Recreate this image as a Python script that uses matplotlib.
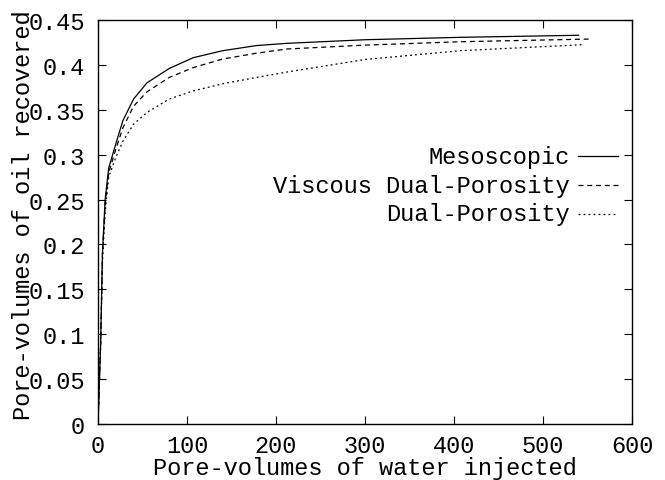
import numpy as np
import matplotlib
matplotlib.use("Agg")
import matplotlib.pyplot as plt

plt.rcParams['font.family'] = ['Liberation Mono', 'DejaVu Sans Mono']

# pore-volumes of water injected
x_meso = [0, 3, 5, 8, 12, 20, 28, 40, 55, 80, 107, 140, 178, 212, 300, 407, 540]
x_vdp = [0, 3, 5, 8, 12, 20, 28, 40, 55, 80, 107, 140, 178, 212, 300, 407, 554]
x_dp = [0, 3, 5, 8, 12, 20, 28, 40, 55, 80, 107, 140, 178, 212, 300, 407, 545]

# pore-volumes of oil recovered
y_meso = [0, 0.09, 0.19, 0.25, 0.285, 0.312, 0.338, 0.362, 0.38, 0.396, 0.408,
          0.4158, 0.4215, 0.424, 0.428, 0.4307, 0.433]
y_vdp = [0, 0.09, 0.19, 0.245, 0.28, 0.306, 0.33, 0.354, 0.37, 0.386, 0.397,
         0.4065, 0.413, 0.4177, 0.422, 0.4258, 0.4288]
y_dp = [0, 0.09, 0.18, 0.235, 0.275, 0.297, 0.315, 0.334, 0.347, 0.362, 0.371,
        0.379, 0.386, 0.392, 0.406, 0.4158, 0.4225]

labels = ['Mesoscopic', 'Viscous Dual-Porosity', 'Dual-Porosity']
xticks = [0, 100, 200, 300, 400, 500, 600]
yticks = [0, 0.05, 0.1, 0.15, 0.2, 0.25, 0.3, 0.35, 0.4, 0.45]

fs = 17
fig = plt.figure(figsize=(6.65, 4.81), dpi=100)
ax = fig.add_axes([98 / 665, 56 / 481, 534 / 665, 404 / 481])

styles = [dict(ls='-'), dict(ls=(0, (4, 3))), dict(ls=(0, (1.5, 2.5)))]
series = [(x_meso, y_meso), (x_vdp, y_vdp), (x_dp, y_dp)]
for (xs, ys), st in zip(series, styles):
    ax.plot(xs, ys, color='black', lw=0.9, **st)

ax.set_xlim(0, 600)
ax.set_ylim(0, 0.45)
ax.set_xticks(xticks)
ax.set_xticklabels([str(t) for t in xticks])
ax.set_yticks(yticks)
ax.set_yticklabels(['0', '0.05', '0.1', '0.15', '0.2', '0.25', '0.3', '0.35', '0.4', '0.45'])
ax.tick_params(direction='in', length=6, width=0.8, top=True, right=True,
               labelsize=fs, colors='black')
ax.tick_params(axis='y', pad=9.5)
ax.tick_params(axis='x', pad=7)
for s in ax.spines.values():
    s.set_linewidth(1.0)

ax.set_xlabel('Pore-volumes of water injected', fontsize=fs)
ax.set_ylabel('Pore-volumes of oil recovered', fontsize=fs)
ax.xaxis.set_label_coords(0.5, -0.078)
ax.yaxis.set_label_coords(-0.118, 0.52)

# gnuplot style key: right-aligned text, line sample on the right
for i, (lab, st) in enumerate(zip(labels, styles)):
    yk = 0.663 - i * 0.0715
    ax.text(0.884, yk, lab, transform=ax.transAxes, ha='right', va='center', fontsize=fs)
    ax.plot([0.899, 0.974], [yk, yk], transform=ax.transAxes, color='black', lw=0.9, **st)

fig.savefig('out.png', dpi=100)
